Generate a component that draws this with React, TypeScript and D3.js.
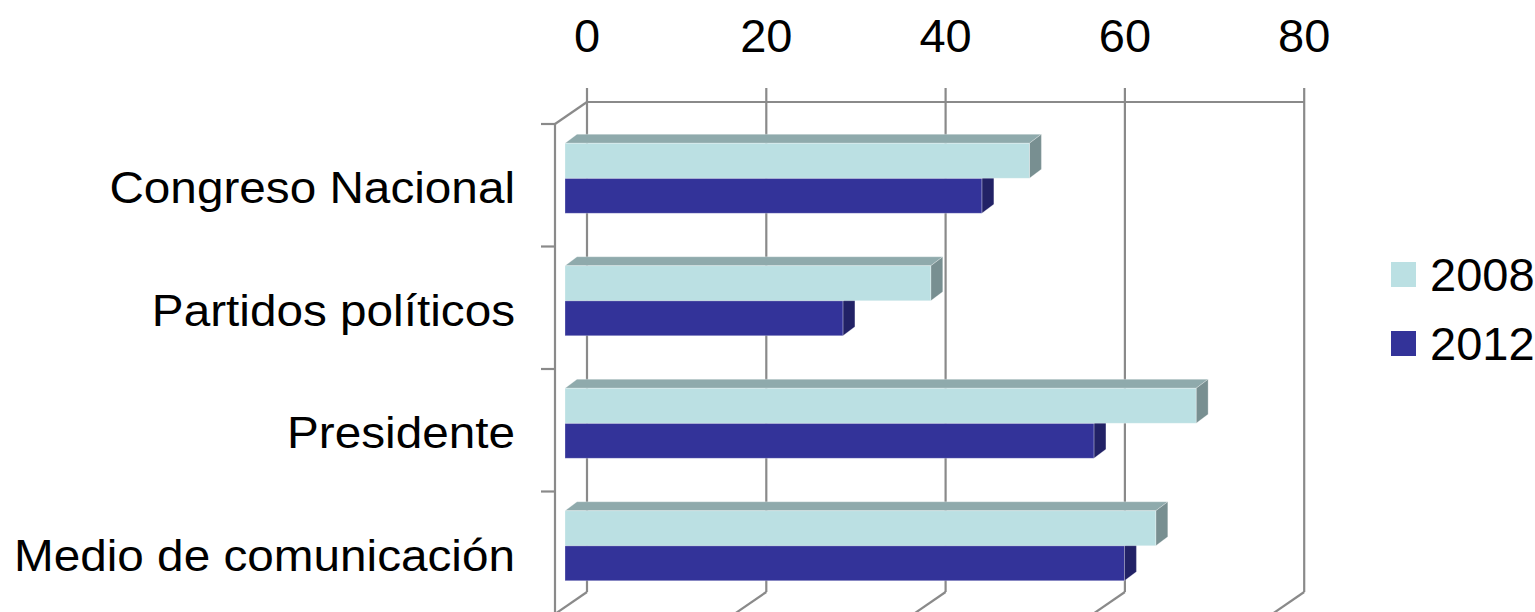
import React from "react";
import * as d3 from "d3";

const categories = ["Congreso Nacional", "Partidos políticos", "Presidente", "Medio de comunicación"];
const seriesNames = ["2008", "2012"];
const values2008 = [51.8, 40.8, 70.4, 65.9];
const values2012 = [46.5, 31.0, 59.0, 62.4];
const tickValues = [0, 20, 40, 60, 80];

const colors: Record<string, { front: string; top: string; side: string }> = {
  "2008": { front: "#BBE0E3", top: "#8FAAAC", side: "#788F91" },
  "2012": { front: "#333399", top: "#262673", side: "#222266" },
};

export default function App() {
  const W = 1535, H = 612;
  const depthX = 32, depthY = 22;
  const frontX0 = 555, frontTop = 124, frontBottom = 614;
  const backX0 = frontX0 + depthX, backTop = frontTop - depthY, backBottom = frontBottom - depthY;
  const barOffX = 10, barOffY = 7;
  const barDX = 12, barDY = 9;
  const plotW = 717.2;

  const x = d3.scaleLinear().domain([0, 80]).range([0, plotW]);
  const yFront = d3.scaleBand<string>().domain(categories).range([frontTop, frontBottom]).padding(0);
  const yBar = d3
    .scaleBand<string>()
    .domain(categories)
    .range([frontTop - barOffY, frontBottom - barOffY])
    .paddingInner(0.4286)
    .paddingOuter(0.2143);
  const ySeries = d3.scaleBand<string>().domain(seriesNames).range([0, yBar.bandwidth()]);

  const data: Record<string, number[]> = { "2008": values2008, "2012": values2012 };
  const barX0 = frontX0 + barOffX;
  const grid = "#8a8a8a";

  const boundaries = d3.range(categories.length + 1).map((i) => frontTop + i * yFront.step());
  const drawOrder = ["2012", "2008"];

  return (
    <svg width={W} height={H} style={{ position: "absolute", left: 0, top: 0 }} fontFamily="'Liberation Sans', Arial, sans-serif">
      <rect width={W} height={H} fill="#fff" />
      {tickValues.map((t) => {
        const gx = backX0 + x(t);
        return (
          <g key={"g" + t}>
            <line x1={gx} y1={backTop - 14} x2={gx} y2={backBottom} stroke={grid} strokeWidth={2.2} />
            <line x1={gx} y1={backBottom} x2={gx - depthX} y2={backBottom + depthY} stroke={grid} strokeWidth={2.2} />
          </g>
        );
      })}
      <line x1={backX0} y1={backTop} x2={backX0 + x(80)} y2={backTop} stroke={grid} strokeWidth={2.2} />
      <line x1={backX0} y1={backTop} x2={frontX0} y2={frontTop} stroke={grid} strokeWidth={2.2} />
      <line x1={frontX0} y1={frontTop} x2={frontX0} y2={frontBottom} stroke={grid} strokeWidth={2.2} />
      {boundaries.map((b, i) => (
        <line key={"t" + i} x1={frontX0 - 14} y1={b} x2={frontX0} y2={b} stroke={grid} strokeWidth={2.2} />
      ))}
      {tickValues.map((t) => (
        <text key={"l" + t} x={backX0 + x(t)} y={52} fontSize={47} textAnchor="middle" fill="#000">
          {t}
        </text>
      ))}
      {categories.map((c, ci) => (
        <g key={c}>
          {drawOrder.map((s) => {
            const v = data[s][ci];
            const w = x(v);
            const y0 = (yBar(c) as number) + (ySeries(s) as number);
            const h = ySeries.bandwidth();
            const col = colors[s];
            const x0 = barX0;
            const top = `${x0},${y0} ${x0 + barDX},${y0 - barDY} ${x0 + w + barDX},${y0 - barDY} ${x0 + w},${y0}`;
            const side = `${x0 + w},${y0} ${x0 + w + barDX},${y0 - barDY} ${x0 + w + barDX},${y0 + h - barDY} ${x0 + w},${y0 + h}`;
            return (
              <g key={s}>
                <polygon points={top} fill={col.top} stroke="#ffffff" strokeOpacity={0.35} strokeWidth={0.8} />
                <polygon points={side} fill={col.side} stroke="#ffffff" strokeOpacity={0.35} strokeWidth={0.8} />
                <rect x={x0} y={y0} width={w} height={h} fill={col.front} stroke="#ffffff" strokeOpacity={0.35} strokeWidth={0.8} />
              </g>
            );
          })}
        </g>
      ))}
      {categories.map((c) => (
        <text
          key={"c" + c}
          transform={`translate(515, ${(yFront(c) as number) + yFront.bandwidth() / 2 + 18}) scale(1.06, 1)`}
          fontSize={45}
          textAnchor="end"
          fill="#000"
        >
          {c}
        </text>
      ))}
      {seriesNames.map((s, i) => (
        <g key={"leg" + s} transform={`translate(1391, ${262 + i * 69})`}>
          <rect width={25} height={25} fill={colors[s].front} />
          <text x={39} y={29} fontSize={47} fill="#000">
            {s}
          </text>
        </g>
      ))}
    </svg>
  );
}
